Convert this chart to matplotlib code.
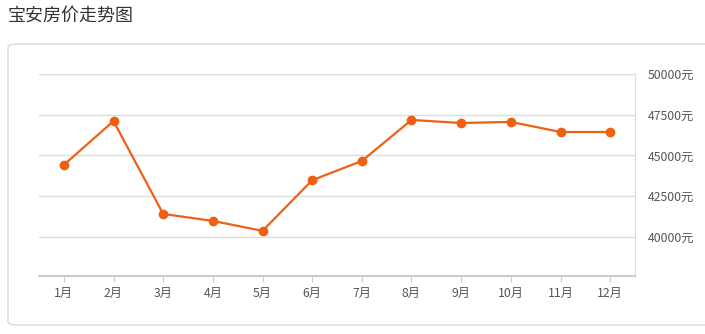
import matplotlib.pyplot as plt
from matplotlib.patches import FancyBboxPatch

plt.rcParams['font.family'] = ['Noto Sans CJK SC', 'DejaVu Sans']

# data
months = ['1月', '2月', '3月', '4月', '5月', '6月', '7月', '8月', '9月', '10月', '11月', '12月']
prices = [44420, 47110, 41410, 40980, 40370, 43480, 44660, 47180, 46990, 47060, 46440, 46440]
yticks = [40000, 42500, 45000, 47500, 50000]

W, H = 705, 334
fig = plt.figure(figsize=(W / 100, H / 100), dpi=100)

# card background
card = FancyBboxPatch((8 / W, 1 - 325 / H), 720 / W, 281 / H,
                      boxstyle='round,pad=0,rounding_size=0.012',
                      transform=fig.transFigure, facecolor='white',
                      edgecolor='#d9d9d9', linewidth=1.0, zorder=-5)
fig.patches.append(card)

fig.text(8 / W, 1 - 16 / H, '宝安房价走势图', fontsize=13, color='#333333',
         va='center', ha='left')

ax = fig.add_axes([39 / W, 1 - 276 / H, (635 - 39) / W, (276 - 74) / H])
ax.set_facecolor('none')
x = list(range(len(months)))
ax.plot(x, prices, color='#f06012', linewidth=1.6, marker='o', markersize=6, zorder=3)

ax.set_xlim(-0.5, len(months) - 0.5)
ax.set_ylim(37600, 50000)
ax.set_xticks(x)
ax.set_xticklabels(months)
ax.set_yticks(yticks)
ax.set_yticklabels([f'{v}元' for v in yticks])
ax.yaxis.tick_right()
ax.tick_params(axis='y', length=0, pad=9, labelsize=8.8, labelcolor='#555555')
ax.tick_params(axis='x', length=4, color='#cccccc', pad=4, labelsize=8.8, labelcolor='#555555')
ax.grid(axis='y', color='#dddddd', linewidth=1)
ax.set_axisbelow(True)

for s in ['top', 'left']:
    ax.spines[s].set_visible(False)
ax.spines['right'].set_color('#dddddd')
ax.spines['bottom'].set_color('#cccccc')
ax.spines['bottom'].set_linewidth(1.5)

fig.savefig('out.png', dpi=100)
